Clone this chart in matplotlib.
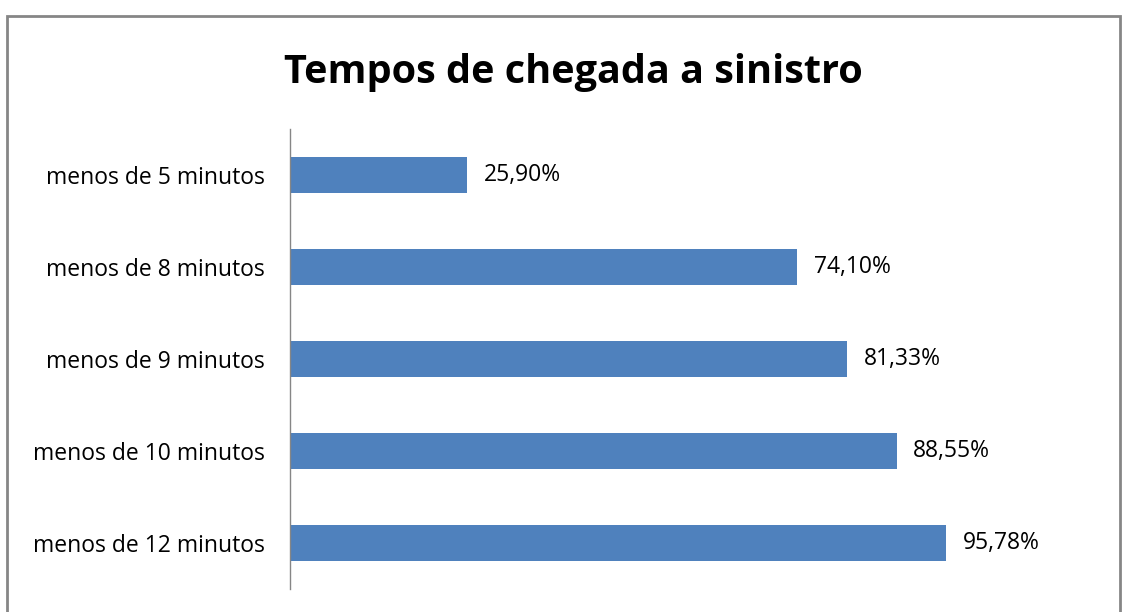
import matplotlib.pyplot as plt
from matplotlib.patches import Rectangle

# data
categorias = ["menos de 5 minutos", "menos de 8 minutos", "menos de 9 minutos",
              "menos de 10 minutos", "menos de 12 minutos"]
valores = [25.90, 74.10, 81.33, 88.55, 95.78]
rotulos = ["25,90%", "74,10%", "81,33%", "88,55%", "95,78%"]

W, H = 1127, 612
plt.rcParams['font.family'] = ['Open Sans', 'DejaVu Sans']

fig = plt.figure(figsize=(W / 100, H / 100), dpi=100)

# outer chart border (bottom edge falls off the picture)
fig.patches.append(Rectangle((7 / W, -0.05), (1120 - 7) / W, 1.05 - 16 / H,
                             transform=fig.transFigure, fill=False,
                             edgecolor='#868686', linewidth=2))

ax = fig.add_axes([289.5 / W, 1 - 589 / H, 685.5 / W, (589 - 129) / H])
y = range(len(categorias))
ax.barh(y, valores, height=0.39, color='#4f81bd')
ax.set_xlim(0, 100)
ax.set_ylim(len(categorias) - 0.5, -0.5)
ax.set_yticks(list(y))
ax.set_yticklabels(categorias, fontsize=16.5)
ax.tick_params(axis='y', length=0, pad=18)
ax.set_xticks([])
for s in ['top', 'right', 'bottom']:
    ax.spines[s].set_visible(False)
ax.spines['left'].set_color('#868686')
ax.spines['left'].set_linewidth(1)

for i, (v, t) in enumerate(zip(valores, rotulos)):
    ax.text(v + 2.4, i, t, va='center', ha='left', fontsize=16.5)

fig.text(573 / W, 1 - 72 / H, "Tempos de chegada a sinistro", ha='center',
         va='center', fontsize=28.5, fontweight='bold')

fig.savefig('out.png', dpi=100)
